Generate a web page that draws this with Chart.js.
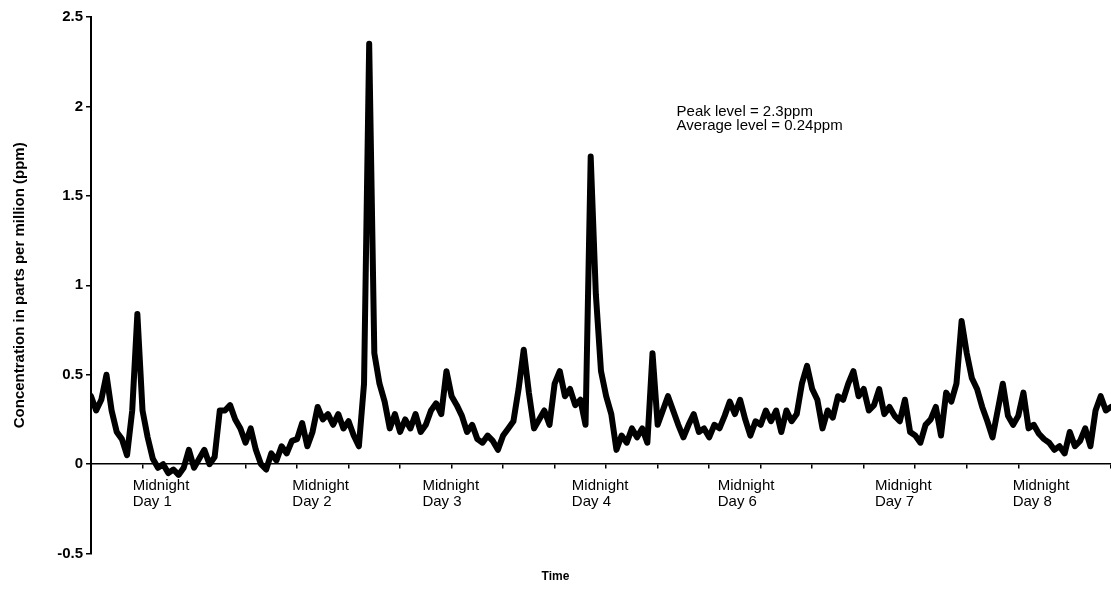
<!DOCTYPE html>
<html>
<head>
<meta charset="utf-8">
<script src="https://cdn.jsdelivr.net/npm/chart.js@4.4.1/dist/chart.umd.min.js"></script>
<style>
html, body { margin: 0; padding: 0; background: #fff; }
#wrap { width: 1111px; height: 589px; position: relative; }
</style>
</head>
<body>
<div id="wrap"><canvas id="mychart"></canvas></div>
<script>
// concentration readings (ppm), one reading every 1.2 hours
var conc = [
  0.38, 0.3, 0.36, 0.5, 0.3, 0.18, 0.14, 0.05, 0.3, 0.84,
  0.3, 0.15, 0.03, -0.02, 0.0, -0.05, -0.03, -0.06, -0.02, 0.08,
  -0.02, 0.03, 0.08, 0.0, 0.04, 0.3, 0.3, 0.33, 0.25, 0.2,
  0.12, 0.2, 0.08, 0.0, -0.03, 0.06, 0.02, 0.1, 0.06, 0.13,
  0.14, 0.23, 0.1, 0.18, 0.32, 0.25, 0.28, 0.22, 0.28, 0.2,
  0.24, 0.16, 0.1, 0.45, 2.35, 0.62, 0.45, 0.35, 0.2, 0.28,
  0.18, 0.25, 0.2, 0.28, 0.18, 0.22, 0.3, 0.34, 0.28, 0.52,
  0.38, 0.33, 0.27, 0.18, 0.22, 0.14, 0.12, 0.16, 0.13, 0.08,
  0.16, 0.2, 0.24, 0.42, 0.64, 0.4, 0.2, 0.25, 0.3, 0.22,
  0.45, 0.52, 0.38, 0.42, 0.33, 0.36, 0.22, 1.72, 0.95, 0.52,
  0.38, 0.28, 0.08, 0.16, 0.12, 0.2, 0.15, 0.2, 0.12, 0.62,
  0.22, 0.3, 0.38, 0.3, 0.22, 0.15, 0.22, 0.28, 0.18, 0.2,
  0.15, 0.22, 0.2, 0.27, 0.35, 0.28, 0.36, 0.25, 0.16, 0.24,
  0.22, 0.3, 0.24, 0.3, 0.18, 0.3, 0.24, 0.28, 0.45, 0.55,
  0.42, 0.36, 0.2, 0.3, 0.26, 0.38, 0.36, 0.45, 0.52, 0.38,
  0.42, 0.3, 0.33, 0.42, 0.28, 0.32, 0.27, 0.24, 0.36, 0.18,
  0.16, 0.12, 0.22, 0.25, 0.32, 0.16, 0.4, 0.35, 0.45, 0.8,
  0.62, 0.48, 0.42, 0.32, 0.24, 0.15, 0.3, 0.45, 0.27, 0.22,
  0.27, 0.4, 0.2, 0.22, 0.17, 0.14, 0.12, 0.08, 0.1, 0.06,
  0.18, 0.1, 0.13, 0.2, 0.1, 0.3, 0.38, 0.3, 0.32
];
var stepHours = 1.2;
var yTicks = [-0.5, 0, 0.5, 1, 1.5, 2, 2.5];

// text under the zero line
var midnightDays = ['Day 1', 'Day 2', 'Day 3', 'Day 4', 'Day 6', 'Day 7', 'Day 8'];
var midnightHours = [9.7, 46.9, 77.2, 112.0, 146.0, 182.6, 214.7];

var noteLines = ['Peak level = 2.3ppm', 'Average level = 0.24ppm'];
var noteHour = 136.4;
var noteValue = 1.97;

var points = conc.map(function (v, i) { return { x: i * stepHours, y: v }; });
var lastHour = (conc.length - 1) * stepHours;

var textPlugin = {
  id: 'textPlugin',
  afterDraw: function (chart) {
    var ctx = chart.ctx;
    var xs = chart.scales.x, ys = chart.scales.y;
    var y0 = ys.getPixelForValue(0);
    ctx.save();
    ctx.fillStyle = '#000';
    ctx.font = '15px "Liberation Sans"';
    ctx.textAlign = 'left';
    ctx.textBaseline = 'middle';
    for (var k = 0; k < midnightDays.length; k++) {
      var x = xs.getPixelForValue(midnightHours[k]);
      ctx.fillText('Midnight', x, y0 + 22);
      ctx.fillText(midnightDays[k], x, y0 + 38);
    }
    var nx = xs.getPixelForValue(noteHour);
    var ny = ys.getPixelForValue(noteValue);
    for (var j = 0; j < noteLines.length; j++) {
      ctx.fillText(noteLines[j], nx, ny + j * 14);
    }
    ctx.restore();
  }
};

var chart = new Chart(document.getElementById('mychart').getContext('2d'), {
  type: 'line',
  data: {
    datasets: [{
      data: points,
      borderColor: '#000',
      borderWidth: 6,
      borderJoinStyle: 'round',
      borderCapStyle: 'round',
      pointRadius: 0,
      tension: 0,
      fill: false
    }]
  },
  options: {
    responsive: true,
    maintainAspectRatio: false,
    animation: false,
    devicePixelRatio: 1,
    layout: { padding: { top: 17, left: 0, right: 0, bottom: 0 } },
    plugins: {
      legend: { display: false },
      tooltip: { enabled: false },
      title: {
        display: true,
        text: 'Time',
        position: 'bottom',
        color: '#000',
        font: { family: 'Liberation Sans', size: 12, weight: 'bold' },
        padding: { top: 16, bottom: 5 }
      }
    },
    scales: {
      x: {
        type: 'linear',
        min: 0,
        max: lastHour,
        position: { y: 0 },
        ticks: { display: false, stepSize: 12 },
        grid: { drawOnChartArea: false, drawTicks: true, tickLength: 4, color: '#000', lineWidth: 1.5 },
        border: { color: '#000', width: 1.5 }
      },
      y: {
        min: -0.5,
        max: 2.5,
        afterBuildTicks: function (s) { s.ticks = yTicks.map(function (v) { return { value: v }; }); },
        afterFit: function (s) { s.width = 91; },
        ticks: {
          color: '#000',
          padding: 3,
          font: { family: 'Liberation Sans', size: 15, weight: 'bold' },
          callback: function (v) { return String(v); }
        },
        grid: { drawOnChartArea: false, tickLength: 5, color: '#000', lineWidth: 1.5 },
        border: { color: '#000', width: 2 },
        title: {
          display: true,
          text: 'Concentration in parts per million (ppm)',
          color: '#000',
          font: { family: 'Liberation Sans', size: 15, weight: 'bold' },
          padding: { top: 11, bottom: 0 }
        }
      }
    }
  },
  plugins: [textPlugin]
});
</script>
</body>
</html>
